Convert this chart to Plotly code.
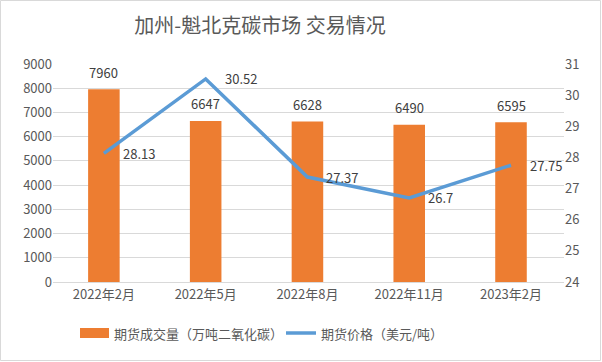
import plotly.graph_objects as go

categories = ["2022年2月", "2022年5月", "2022年8月", "2022年11月", "2023年2月"]
volume = [7960, 6647, 6628, 6490, 6595]
price = [28.13, 30.52, 27.37, 26.7, 27.75]
vol_name = "期货成交量（万吨二氧化碳）"
price_name = "期货价格（美元/吨）"
title = "加州-魁北克碳市场 交易情况"

FONT = "Noto Sans CJK SC, Microsoft YaHei, sans-serif"
W, H = 602, 362
L, R, T, B = 53, 38, 64, 80
pw = W - L - R
ph = H - T - B
TXT = "#404040"
AX = "#595959"

fig = go.Figure()
fig.add_trace(go.Bar(
    x=categories, y=volume, name=vol_name,
    marker=dict(color="#ED7D31", line=dict(width=0)),
    showlegend=False,
))
fig.add_trace(go.Scatter(
    x=categories, y=price, name=price_name, yaxis="y2",
    mode="lines", line=dict(color="#5B9BD5", width=3.5),
    showlegend=False, cliponaxis=False,
))

# data labels
for c, v in zip(categories, volume):
    fig.add_annotation(x=c, y=v, xref="x", yref="y", text=str(v), showarrow=False,
                       yanchor="middle", yshift=17,
                       font=dict(size=13, color=TXT, family=FONT))
for c, p in zip(categories, price):
    fig.add_annotation(x=c, y=p, xref="x", yref="y2", text=f"{p:g}", showarrow=False,
                       xanchor="left", yanchor="middle", xshift=17,
                       font=dict(size=13, color=TXT, family=FONT))

# outer border
fig.add_shape(type="rect", xref="paper", yref="paper",
              x0=-(L - 0.5) / pw, x1=1 + (R - 1.5) / pw,
              y0=-(B - 1.5) / ph, y1=1 + (T - 0.5) / ph,
              line=dict(color="#D9D9D9", width=1), layer="below")

# custom legend
def px(xp):
    return (xp - L) / pw

def py(yp):
    return (H - B - yp) / ph

ly = 333
fig.add_shape(type="rect", xref="paper", yref="paper",
              x0=px(80), x1=px(109), y0=py(ly + 5), y1=py(ly - 5),
              fillcolor="#ED7D31", line=dict(width=0))
fig.add_annotation(xref="paper", yref="paper", x=px(112), y=py(ly), text=vol_name,
                   showarrow=False, xanchor="left", yanchor="middle",
                   font=dict(size=13, color=AX, family=FONT))
fig.add_shape(type="line", xref="paper", yref="paper",
              x0=px(286), x1=px(316), y0=py(ly), y1=py(ly),
              line=dict(color="#5B9BD5", width=3.5))
fig.add_annotation(xref="paper", yref="paper", x=px(319), y=py(ly), text=price_name,
                   showarrow=False, xanchor="left", yanchor="middle",
                   font=dict(size=13, color=AX, family=FONT))

fig.update_layout(
    width=W, height=H,
    margin=dict(l=L, r=R, t=T, b=B, autoexpand=False),
    paper_bgcolor="white", plot_bgcolor="white",
    font=dict(family=FONT, size=13, color=AX),
    title=dict(text=title, x=260 / W, xref="container", xanchor="center",
               y=1 - 26 / H, yref="container", yanchor="middle",
               font=dict(size=20, color=AX, family=FONT)),
    bargap=0.69,
    showlegend=False,
    xaxis=dict(showgrid=False, showline=True, linecolor="#D9D9D9",
               ticks="", tickfont=dict(size=13, color=AX)),
    yaxis=dict(range=[0, 9000], dtick=1000, showgrid=True, gridcolor="#D9D9D9",
               zeroline=False, ticks="", tickfont=dict(size=13, color=AX)),
    yaxis2=dict(range=[24, 31], dtick=1, overlaying="y", side="right",
                showgrid=False, zeroline=False, ticks="",
                tickfont=dict(size=13, color=AX)),
)

fig.write_html("out.html", config={"displayModeBar": False},
               post_script="document.body.style.margin='0';document.body.style.overflow='hidden';")
